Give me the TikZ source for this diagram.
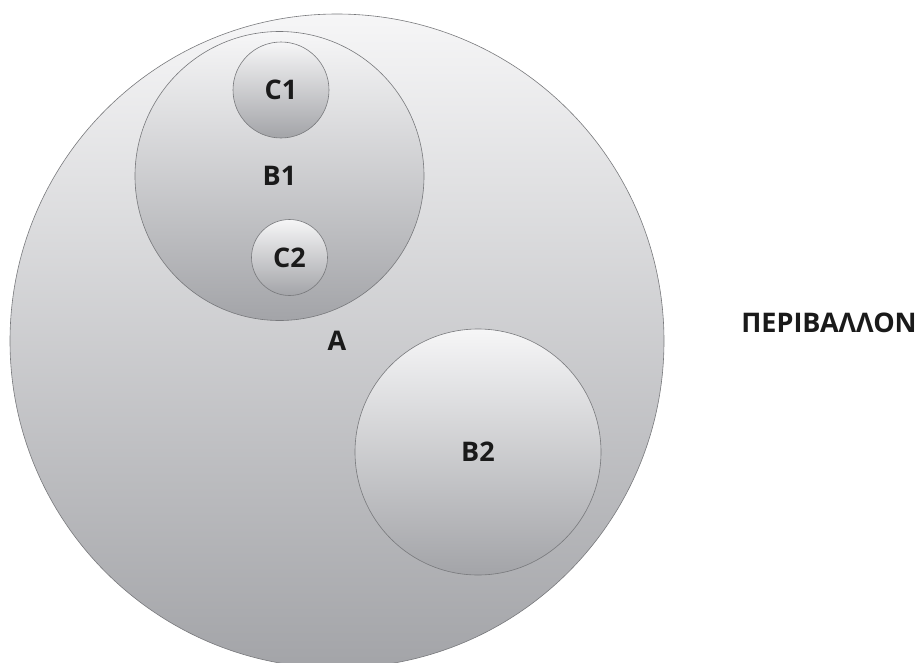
\documentclass[tikz,border=0pt]{standalone}
\usepackage{fontspec}
\setmainfont{Open Sans}
\usepackage{tikz}
\definecolor{setline}{RGB}{120,121,124}
\definecolor{settop}{RGB}{246,246,247}
\definecolor{setbottom}{RGB}{163,164,168}
\definecolor{labelink}{RGB}{26,26,26}

\begin{document}
\begin{tikzpicture}[
  x=1pt, y=-1pt,
  every node/.style={font=\fontsize{27}{32}\selectfont\bfseries, text=labelink},
  set/.style={circle, draw=setline, line width=0.6pt, top color=settop, bottom color=setbottom, inner sep=0pt},
]
\useasboundingbox (0,0) rectangle (918,662);
\clip (0,0) rectangle (918,662);

% ---------------- outer set ----------------
\node[set, minimum size=654pt] (A) at (337,341) {A};

% ---------------- B1 with its two subsets ----------------
\node[set, minimum size=289pt] (B1) at (279.5,176) {B1};
\node[set, minimum size=96pt]  (C1) at (281,90) {C1};
\node[set, minimum size=76pt]  (C2) at (289.5,257.5) {C2};

% ---------------- B2 ----------------
\node[set, minimum size=246pt] (B2) at (478,452) {B2};

% environment label
\node (env) at (829,323) {ΠΕΡΙΒΑΛΛΟΝ};
\end{tikzpicture}
\end{document}
